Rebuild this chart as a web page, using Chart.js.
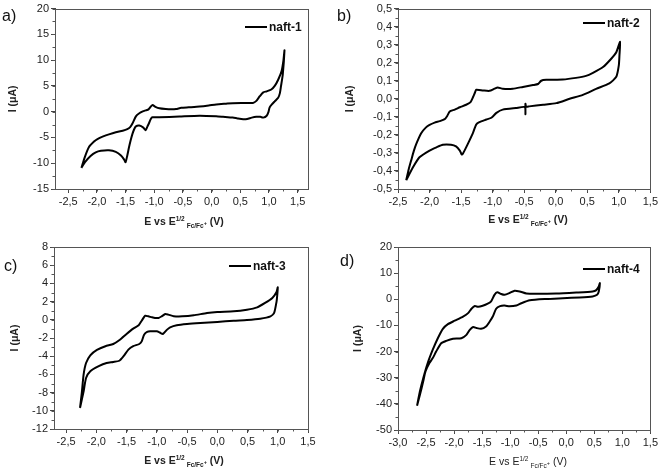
<!DOCTYPE html>
<html>
<head>
<meta charset="utf-8">
<script src="https://cdn.jsdelivr.net/npm/chart.js"></script>
<style>
  body { margin: 0; background: #fff; font-family: "Liberation Sans", Arial, sans-serif; }
  #wrap { position: relative; width: 660px; height: 470px; overflow: hidden; }
  #wrap canvas { position: absolute; }
  .tag { position: absolute; font-size: 16px; line-height: 16px; color: #111; }
  .xt { position: absolute; width: 200px; text-align: center; font-size: 10.5px; line-height: 12px; font-weight: bold; color: #222; white-space: nowrap; }
  .xt.thin { font-weight: normal; }
  .xt .up { font-size: 6.5px; position: relative; top: -4px; }
  .xt .dn { font-size: 6.5px; position: relative; top: 3px; margin-left: 2px; }
  .xt .dn .up { top: -3px; font-size: 5.5px; }
  .lg { position: absolute; font-size: 12px; line-height: 14px; font-weight: bold; color: #111; white-space: nowrap; }
  .lg i { display: inline-block; width: 22px; height: 2px; background: #000; vertical-align: middle; margin-right: 2px; position: relative; top: -1px; }
</style>
</head>
<body>
<div id="wrap">
  <canvas id="cA" width="330" height="235" style="left:0;top:0"></canvas>
  <canvas id="cB" width="330" height="235" style="left:330px;top:0"></canvas>
  <canvas id="cC" width="330" height="235" style="left:0;top:235px"></canvas>
  <canvas id="cD" width="330" height="235" style="left:330px;top:235px"></canvas>

  <div class="tag" style="left:2px;top:8px">a)</div>
  <div class="tag" style="left:337px;top:8px">b)</div>
  <div class="tag" style="left:4px;top:258px">c)</div>
  <div class="tag" style="left:340px;top:253px">d)</div>

  <div class="xt" style="left:84px;top:215px">E vs E<span class="up">1/2</span><span class="dn">Fc/Fc<span class="up">+</span></span> (V)</div>
  <div class="xt" style="left:428px;top:213px">E vs E<span class="up">1/2</span><span class="dn">Fc/Fc<span class="up">+</span></span> (V)</div>
  <div class="xt" style="left:84px;top:454px">E vs E<span class="up">1/2</span><span class="dn">Fc/Fc<span class="up">+</span></span> (V)</div>
  <div class="xt thin" style="left:428px;top:455px">E vs E<span class="up">1/2</span><span class="dn">Fc/Fc<span class="up">+</span></span> (V)</div>

  <div class="lg" style="left:245px;top:20px"><i></i>naft-1</div>
  <div class="lg" style="left:583px;top:16px"><i></i>naft-2</div>
  <div class="lg" style="left:229px;top:259px"><i></i>naft-3</div>
  <div class="lg" style="left:583px;top:262px"><i></i>naft-4</div>
</div>
<script>
// tick values
const eTicks = [-2.5, -2.0, -1.5, -1.0, -0.5, 0.0, 0.5, 1.0, 1.5];
const eTicksD = [-3.0, -2.5, -2.0, -1.5, -1.0, -0.5, 0.0, 0.5, 1.0, 1.5];
const iTicksA = [-15, -10, -5, 0, 5, 10, 15, 20];
const iTicksB = [-0.5, -0.4, -0.3, -0.2, -0.1, 0.0, 0.1, 0.2, 0.3, 0.4, 0.5];
const iTicksC = [-12, -10, -8, -6, -4, -2, 0, 2, 4, 6, 8];
const iTicksD = [-50, -40, -30, -20, -10, 0, 10, 20];

// naft-1 (loop: anodic branch then cathodic branch)
const naft1E = [-2.27, -2.21, -2.14, -2.05, -1.99, -1.89, -1.79, -1.67, -1.55, -1.47, -1.42, -1.38, -1.32, -1.26, -1.20, -1.15, -1.10, -1.06, -1.03, -0.98, -0.91, -0.80, -0.70, -0.62, -0.53, -0.40, -0.21, -0.05, 0.08, 0.25, 0.37, 0.55, 0.72, 0.78, 0.84, 0.90, 0.96, 1.04, 1.10, 1.16, 1.22, 1.25, 1.27,
  1.24, 1.21, 1.19, 1.16, 1.10, 1.05, 1.01, 0.99, 0.96, 0.90, 0.85, 0.78, 0.70, 0.62, 0.55, 0.45, 0.37, 0.20, 0.08, -0.21, -0.56, -0.91, -1.03, -1.06, -1.09, -1.12, -1.15, -1.19, -1.26, -1.32, -1.35, -1.38, -1.41, -1.44, -1.47, -1.50, -1.53, -1.58, -1.67, -1.79, -1.93, -2.02, -2.11, -2.20, -2.27];
const naft1I = [-10.9, -8.8, -6.9, -5.8, -5.3, -4.8, -4.4, -4.0, -3.7, -3.4, -3.0, -2.3, -0.9, -0.3, 0.05, 0.25, 0.45, 1.0, 1.3, 0.95, 0.65, 0.5, 0.45, 0.5, 0.75, 0.85, 1.0, 1.2, 1.4, 1.55, 1.65, 1.68, 1.7, 2.1, 3.0, 3.75, 3.95, 4.3, 5.0, 6.2, 7.9, 9.8, 11.9,
  7.2, 5.0, 3.6, 2.7, 2.0, 1.4, 0.8, -0.1, -0.8, -1.15, -1.0, -1.0, -1.15, -1.4, -1.45, -1.3, -1.15, -1.0, -0.9, -0.8, -0.95, -1.1, -1.1, -1.4, -2.2, -2.9, -3.6, -3.1, -2.7, -2.85, -3.4, -4.3, -5.5, -6.9, -8.5, -9.8, -9.2, -8.5, -7.8, -7.5, -7.6, -7.9, -8.6, -9.7, -10.9];

// naft-2
const naft2E = [-2.37, -2.33, -2.29, -2.25, -2.21, -2.13, -2.06, -2.00, -1.92, -1.84, -1.76, -1.72, -1.68, -1.60, -1.52, -1.42, -1.35, -1.31, -1.28, -1.26, -1.15, -1.05, -0.97, -0.92, -0.84, -0.68, -0.52, -0.36, -0.28, -0.23, -0.15, 0.11, 0.32, 0.48, 0.59, 0.75, 0.88, 0.96, 1.02,
  1.01, 1.00, 0.96, 0.85, 0.64, 0.43, 0.22, 0.01, -0.20, -0.42, -0.47, -0.48, -0.48, -0.49, -0.63, -0.84, -0.94, -1.02, -1.10, -1.21, -1.26, -1.31, -1.37, -1.42, -1.47, -1.49, -1.52, -1.58, -1.66, -1.79, -1.89, -2.00, -2.16, -2.26, -2.37];
const naft2I = [-0.451, -0.39, -0.34, -0.29, -0.25, -0.19, -0.16, -0.145, -0.132, -0.124, -0.113, -0.095, -0.07, -0.06, -0.047, -0.033, -0.018, 0.01, 0.035, 0.05, 0.046, 0.044, 0.056, 0.063, 0.056, 0.056, 0.066, 0.076, 0.082, 0.1, 0.105, 0.107, 0.116, 0.127, 0.144, 0.176, 0.222, 0.258, 0.316,
  0.24, 0.185, 0.122, 0.085, 0.055, 0.022, 0.0, -0.024, -0.033, -0.042, -0.044, -0.027, -0.085, -0.046, -0.051, -0.06, -0.078, -0.105, -0.115, -0.129, -0.142, -0.187, -0.233, -0.269, -0.303, -0.309, -0.287, -0.264, -0.255, -0.255, -0.269, -0.287, -0.324, -0.378, -0.451];

// naft-3
const naft3E = [-2.27, -2.24, -2.21, -2.17, -2.10, -1.99, -1.85, -1.72, -1.61, -1.50, -1.39, -1.30, -1.25, -1.19, -1.14, -1.08, -1.03, -0.97, -0.92, -0.86, -0.81, -0.72, -0.58, -0.39, -0.17, 0.00, 0.27, 0.49, 0.66, 0.79, 0.91, 0.98, 1.00,
  0.99, 0.98, 0.94, 0.88, 0.71, 0.49, 0.27, 0.00, -0.28, -0.50, -0.67, -0.78, -0.83, -0.90, -0.95, -1.00, -1.11, -1.16, -1.21, -1.25, -1.29, -1.39, -1.47, -1.55, -1.62, -1.72, -1.83, -1.96, -2.10, -2.17, -2.21, -2.27];
const naft3I = [-9.69, -8.0, -6.0, -4.75, -3.9, -3.3, -2.9, -2.66, -2.2, -1.56, -0.97, -0.6, -0.1, 0.45, 0.38, 0.27, 0.2, 0.2, 0.38, 0.64, 0.57, 0.4, 0.38, 0.49, 0.75, 0.86, 0.93, 1.11, 1.37, 1.85, 2.4, 3.05, 3.57,
  2.6, 2.0, 0.75, 0.38, 0.12, -0.02, -0.1, -0.24, -0.35, -0.46, -0.6, -0.83, -1.08, -1.56, -1.4, -1.27, -1.27, -1.34, -1.63, -2.37, -2.66, -2.9, -3.28, -4.0, -4.5, -4.64, -4.75, -5.1, -5.66, -6.4, -7.86, -9.69];

// naft-4
const naft4E = [-2.66, -2.61, -2.55, -2.47, -2.38, -2.29, -2.20, -2.11, -1.99, -1.84, -1.75, -1.69, -1.63, -1.57, -1.49, -1.40, -1.34, -1.28, -1.23, -1.16, -1.10, -1.01, -0.92, -0.83, -0.71, -0.54, -0.18, 0.18, 0.47, 0.53, 0.58, 0.60,
  0.58, 0.55, 0.47, 0.24, -0.06, -0.36, -0.65, -0.80, -0.89, -1.01, -1.10, -1.18, -1.25, -1.31, -1.37, -1.43, -1.52, -1.60, -1.66, -1.72, -1.78, -1.87, -2.02, -2.14, -2.23, -2.32, -2.38, -2.44, -2.51, -2.55, -2.61, -2.66];
const naft4I = [-40.7, -35.3, -30.2, -24.4, -19.3, -14.9, -11.3, -9.5, -8.2, -6.6, -5.3, -3.6, -2.6, -2.9, -2.5, -1.7, -0.8, 1.7, 2.7, 2.0, 1.7, 2.4, 3.3, 3.0, 2.2, 2.1, 2.2, 2.6, 3.0, 3.4, 4.9, 6.2,
  3.0, 1.7, 1.1, 0.7, 0.4, 0.1, -0.4, -1.5, -2.4, -2.7, -2.4, -2.6, -3.6, -6.6, -8.7, -10.4, -11.3, -11.0, -10.6, -11.7, -13.6, -14.9, -15.1, -15.9, -16.8, -20.0, -22.5, -24.4, -27.6, -31.4, -36.6, -40.7];

function comma(v, d) { return v.toFixed(d).replace('.', ','); }

// box frame + Origin-style minor ticks
const framePlugin = {
  id: 'frame',
  afterDraw(chart, args, opts) {
    const { ctx, chartArea: a, scales: { x, y } } = chart;
    ctx.save();
    ctx.strokeStyle = '#555';
    ctx.lineWidth = 1;
    ctx.strokeRect(Math.round(a.left) + 0.5, Math.round(a.top) + 0.5, Math.round(a.right - a.left), Math.round(a.bottom - a.top));
    ctx.beginPath();
    for (let k = Math.ceil(x.min / opts.xMinor - 1e-9); k * opts.xMinor <= x.max + 1e-9; k++) {
      const px = Math.round(x.getPixelForValue(k * opts.xMinor)) + 0.5;
      ctx.moveTo(px, a.bottom);
      ctx.lineTo(px, a.bottom + 2.5);
    }
    for (let k = Math.ceil(y.min / opts.yMinor - 1e-9); k * opts.yMinor <= y.max + 1e-9; k++) {
      const py = Math.round(y.getPixelForValue(k * opts.yMinor)) + 0.5;
      ctx.moveTo(a.left, py);
      ctx.lineTo(a.left - 2.5, py);
    }
    ctx.stroke();
    ctx.restore();
  }
};

function panel(id, E, I, name, c) {
  const pts = E.map((e, k) => ({ x: e, y: I[k] }));
  const tickFont = { family: '"Liberation Sans", Arial, sans-serif', size: 11 };
  return new Chart(document.getElementById(id), {
    type: 'scatter',
    data: {
      datasets: [{
        label: name,
        data: pts,
        showLine: true,
        borderColor: '#000',
        borderWidth: 2,
        borderJoinStyle: 'round',
        pointRadius: 0,
        tension: 0.2,
        fill: false
      }]
    },
    options: {
      responsive: false,
      animation: false,
      devicePixelRatio: 1,
      layout: { padding: { left: 0, top: c.top, right: c.right, bottom: 0 } },
      plugins: {
        legend: { display: false },
        tooltip: { enabled: false },
        frame: { xMinor: 0.25, yMinor: c.yMinor }
      },
      scales: {
        x: {
          type: 'linear',
          min: c.xMin,
          max: c.xMax,
          afterBuildTicks: s => { s.ticks = c.xTicks.map(v => ({ value: v })); },
          afterFit: s => { s.height = c.xh; },
          ticks: { font: tickFont, color: '#222', padding: 2, maxRotation: 0, callback: v => comma(v, 1) },
          grid: { display: true, drawOnChartArea: false, drawTicks: true, tickLength: 4, color: '#444' },
          border: { display: true, color: '#444' }
        },
        y: {
          type: 'linear',
          min: c.yMin,
          max: c.yMax,
          afterBuildTicks: s => { s.ticks = c.yTicks.map(v => ({ value: v })); },
          afterFit: s => { s.width = c.yw; },
          ticks: { font: tickFont, color: '#222', padding: 2, callback: v => comma(v, c.yDec) },
          grid: { display: true, drawOnChartArea: false, drawTicks: true, tickLength: 4, color: '#444' },
          border: { display: true, color: '#444' },
          title: {
            display: true,
            text: 'I (μA)',
            color: '#222',
            font: { family: '"Liberation Sans", Arial, sans-serif', size: 10.5, weight: 'bold' },
            padding: { top: c.tp, bottom: 0 }
          }
        }
      }
    },
    plugins: [framePlugin]
  });
}

panel('cA', naft1E, naft1I, 'naft-1', { xMin: -2.73, xMax: 1.68, xTicks: eTicks, yMin: -15, yMax: 20, yTicks: iTicksA, yDec: 0, yMinor: 2.5, top: 6, right: 22, yw: 55, xh: 46, tp: 7 });
panel('cB', naft2E, naft2I, 'naft-2', { xMin: -2.5, xMax: 1.5, xTicks: eTicks, yMin: -0.5, yMax: 0.5, yTicks: iTicksB, yDec: 1, yMinor: 0.05, top: 6, right: 9, yw: 68, xh: 46, tp: 14 });
panel('cC', naft3E, naft3I, 'naft-3', { xMin: -2.7, xMax: 1.5, xTicks: eTicks, yMin: -12, yMax: 8, yTicks: iTicksC, yDec: 0, yMinor: 1, top: 12, right: 22, yw: 54, xh: 41, tp: 9 });
panel('cD', naft4E, naft4I, 'naft-4', { xMin: -3.0, xMax: 1.5, xTicks: eTicksD, yMin: -50, yMax: 20, yTicks: iTicksD, yDec: 0, yMinor: 5, top: 12, right: 9, yw: 68, xh: 40, tp: 22 });
</script>
</body>
</html>
